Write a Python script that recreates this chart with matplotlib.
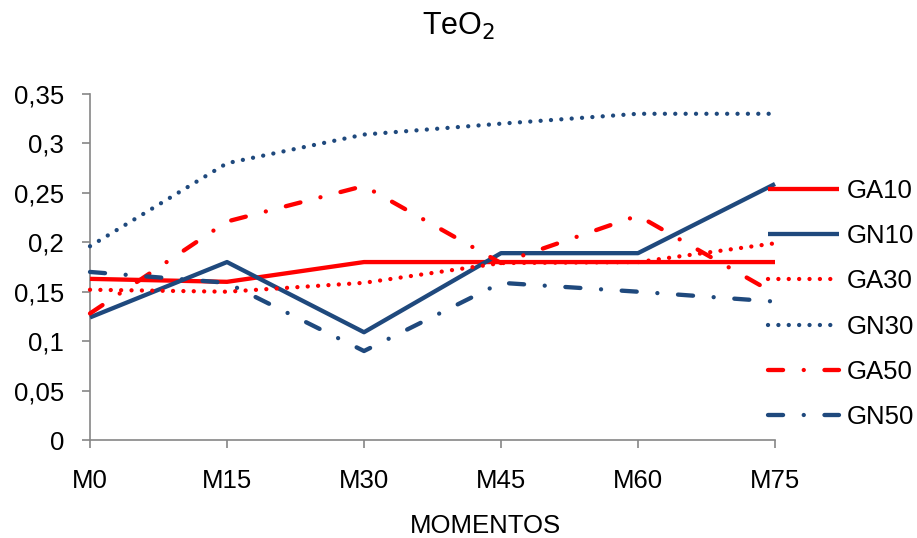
import matplotlib
matplotlib.use("Agg")
import matplotlib.pyplot as plt

plt.rcParams['font.family'] = ['Liberation Sans', 'DejaVu Sans']

categories = ["M0", "M15", "M30", "M45", "M60", "M75"]
GA10 = [0.163, 0.160, 0.180, 0.180, 0.180, 0.180]
GN10 = [0.124, 0.180, 0.109, 0.189, 0.189, 0.259]
GA30 = [0.152, 0.150, 0.159, 0.179, 0.180, 0.199]
GN30 = [0.196, 0.280, 0.309, 0.320, 0.330, 0.330]
GA50 = [0.128, 0.221, 0.257, 0.179, 0.227, 0.148]
GN50 = [0.170, 0.159, 0.090, 0.159, 0.150, 0.140]
yticks = [0, 0.05, 0.1, 0.15, 0.2, 0.25, 0.3, 0.35]
ytick_labels = ["0", "0,05", "0,1", "0,15", "0,2", "0,25", "0,3", "0,35"]

RED = "#FF0000"
BLUE = "#1F497D"
LW = 3.1
dot = (0, (0.01, 2.4))
dashdot = (0, (3.5, 4.8, 0.01, 4.8))

W, H = 917, 538
fig = plt.figure(figsize=(W / 100, H / 100), dpi=100)
ax = fig.add_axes([90 / W, 1 - 440 / H, (775 - 90) / W, (440 - 94) / H])

x = list(range(len(categories)))
series = [
    ("GA10", GA10, RED, "-"),
    ("GN10", GN10, BLUE, "-"),
    ("GA30", GA30, RED, dot),
    ("GN30", GN30, BLUE, dot),
    ("GA50", GA50, RED, dashdot),
    ("GN50", GN50, BLUE, dashdot),
]
handles = []
for name, vals, col, ls in series:
    h, = ax.plot(x, vals, color=col, linestyle=ls, linewidth=LW,
                 dash_capstyle='round', solid_capstyle='butt', label=name,
                 clip_on=False, zorder=3)
    handles.append(h)

ax.set_xlim(0, len(categories) - 1)
ax.set_ylim(0, 0.35)
ax.set_xticks(x)
ax.set_xticklabels(categories)
ax.set_yticks(yticks)
ax.set_yticklabels(ytick_labels)

for s in ["top", "right"]:
    ax.spines[s].set_visible(False)
for s in ["left", "bottom"]:
    ax.spines[s].set_color("#868686")
    ax.spines[s].set_linewidth(1.2)
ax.tick_params(axis='both', colors="#868686", labelcolor="black",
               labelsize=18.5, length=5.8, width=1.2, direction='out')
ax.tick_params(axis='x', pad=15)
ax.tick_params(axis='y', pad=13)

fig.text(0.5, 1 - 35 / H, r"TeO$_2$", ha='center', va='baseline', fontsize=22)
fig.text(485 / W, 1 - 533 / H, "MOMENTOS", ha='center', va='baseline', fontsize=18.5)

leg = fig.legend(handles=handles, loc='center left',
                 bbox_to_anchor=(768 / W, 1 - 304 / H),
                 frameon=False, fontsize=18.5, handlelength=2.76,
                 handletextpad=0.3, labelspacing=0.83, borderpad=0,
                 borderaxespad=0)

fig.savefig("out.png", dpi=100)
